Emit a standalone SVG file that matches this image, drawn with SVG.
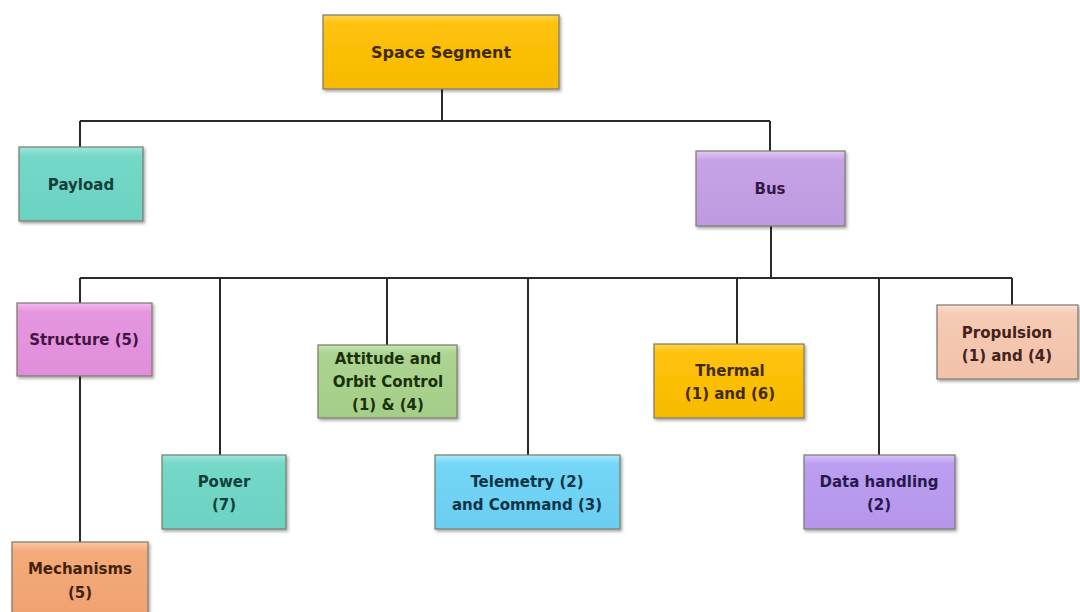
<svg xmlns="http://www.w3.org/2000/svg" width="1080" height="612" viewBox="0 0 1080 612">
<defs>
<linearGradient id="gGold" x1="0" y1="0" x2="0" y2="1"><stop offset="0" stop-color="#FFD34A"/><stop offset="0.12" stop-color="#FFC20A"/><stop offset="1" stop-color="#F8BA00"/></linearGradient>
<linearGradient id="gTeal" x1="0" y1="0" x2="0" y2="1"><stop offset="0" stop-color="#9CE8DC"/><stop offset="0.12" stop-color="#74D8C8"/><stop offset="1" stop-color="#6CD2C2"/></linearGradient>
<linearGradient id="gLav" x1="0" y1="0" x2="0" y2="1"><stop offset="0" stop-color="#E2C8F4"/><stop offset="0.12" stop-color="#C8A2E6"/><stop offset="1" stop-color="#C09AE0"/></linearGradient>
<linearGradient id="gPink" x1="0" y1="0" x2="0" y2="1"><stop offset="0" stop-color="#F4B8F0"/><stop offset="0.12" stop-color="#E696E0"/><stop offset="1" stop-color="#E08EDA"/></linearGradient>
<linearGradient id="gGreen" x1="0" y1="0" x2="0" y2="1"><stop offset="0" stop-color="#C8E6B2"/><stop offset="0.12" stop-color="#ACD490"/><stop offset="1" stop-color="#A4CE88"/></linearGradient>
<linearGradient id="gPeach" x1="0" y1="0" x2="0" y2="1"><stop offset="0" stop-color="#FCE0D2"/><stop offset="0.12" stop-color="#F6CAB4"/><stop offset="1" stop-color="#F2C2AA"/></linearGradient>
<linearGradient id="gBlue" x1="0" y1="0" x2="0" y2="1"><stop offset="0" stop-color="#A8EAFC"/><stop offset="0.12" stop-color="#74D6F6"/><stop offset="1" stop-color="#6ACEF2"/></linearGradient>
<linearGradient id="gPurple" x1="0" y1="0" x2="0" y2="1"><stop offset="0" stop-color="#D8C2F8"/><stop offset="0.12" stop-color="#BC9EF0"/><stop offset="1" stop-color="#B596EC"/></linearGradient>
<linearGradient id="gOrange" x1="0" y1="0" x2="0" y2="1"><stop offset="0" stop-color="#FAC8A4"/><stop offset="0.12" stop-color="#F4AA7A"/><stop offset="1" stop-color="#F0A270"/></linearGradient>
<filter id="sh" x="-10%" y="-10%" width="130%" height="130%"><feDropShadow dx="1.5" dy="2" stdDeviation="1.5" flood-color="#000" flood-opacity="0.35"/></filter>
</defs>
<style>
.box{stroke:#7a7a6a;stroke-width:1.2;filter:url(#sh)}
.t{font-family:"DejaVu Sans",Verdana,sans-serif;font-weight:bold;font-size:15px;text-anchor:middle}
.c{fill:none;stroke:#2a2a2a;stroke-width:2}
</style>
<rect width="1080" height="612" fill="#ffffff"/>
<g id="connectors">
<path class="c" d="M442 89 V121 M80 121 H770 M80 121 V147 M770 121 V151"/>
<path class="c" d="M771 226 V278 M80 278 H1012"/>
<path class="c" d="M80 278 V303 M80 376 V542"/>
<path class="c" d="M220 278 V455 M387 278 V345 M528 278 V455 M737 278 V344 M879 278 V455 M1012 278 V305"/>
</g>
<g id="space-segment"><rect class="box" x="323" y="15" width="236" height="74" fill="url(#gGold)"/><text class="t" x="441" y="58" fill="#402a00" style="font-size:16px">Space Segment</text></g>
<g id="payload"><rect class="box" x="19" y="147" width="124" height="74" fill="url(#gTeal)"/><text class="t" x="81" y="190" fill="#123f39">Payload</text></g>
<g id="bus"><rect class="box" x="696" y="151" width="149" height="75" fill="url(#gLav)"/><text class="t" x="770" y="194" fill="#331848">Bus</text></g>
<g id="structure"><rect class="box" x="17" y="303" width="135" height="73" fill="url(#gPink)"/><text class="t" x="84" y="345" fill="#421440">Structure (5)</text></g>
<g id="attitude"><rect class="box" x="318" y="345" width="139" height="73" fill="url(#gGreen)"/><text class="t" x="388" y="364" fill="#1a300c">Attitude and</text><text class="t" x="388" y="387" fill="#1a300c">Orbit Control</text><text class="t" x="388" y="410" fill="#1a300c">(1) &amp; (4)</text></g>
<g id="thermal"><rect class="box" x="654" y="344" width="150" height="74" fill="url(#gGold)"/><text class="t" x="730" y="376" fill="#402a00">Thermal</text><text class="t" x="730" y="399" fill="#402a00">(1) and (6)</text></g>
<g id="propulsion"><rect class="box" x="937" y="305" width="141" height="74" fill="url(#gPeach)"/><text class="t" x="1007" y="338" fill="#42221a">Propulsion</text><text class="t" x="1007" y="361" fill="#42221a">(1) and (4)</text></g>
<g id="power"><rect class="box" x="162" y="455" width="124" height="74" fill="url(#gTeal)"/><text class="t" x="224" y="487" fill="#123f39">Power</text><text class="t" x="224" y="510" fill="#123f39">(7)</text></g>
<g id="telemetry"><rect class="box" x="435" y="455" width="185" height="74" fill="url(#gBlue)"/><text class="t" x="527" y="487" fill="#0c3444">Telemetry (2)</text><text class="t" x="527" y="510" fill="#0c3444">and Command (3)</text></g>
<g id="data-handling"><rect class="box" x="804" y="455" width="151" height="74" fill="url(#gPurple)"/><text class="t" x="879" y="487" fill="#28184e">Data handling</text><text class="t" x="879" y="510" fill="#28184e">(2)</text></g>
<g id="mechanisms"><rect class="box" x="12" y="542" width="136" height="80" fill="url(#gOrange)"/><text class="t" x="80" y="574" fill="#42220c">Mechanisms</text><text class="t" x="80" y="598" fill="#42220c">(5)</text></g>
</svg>
